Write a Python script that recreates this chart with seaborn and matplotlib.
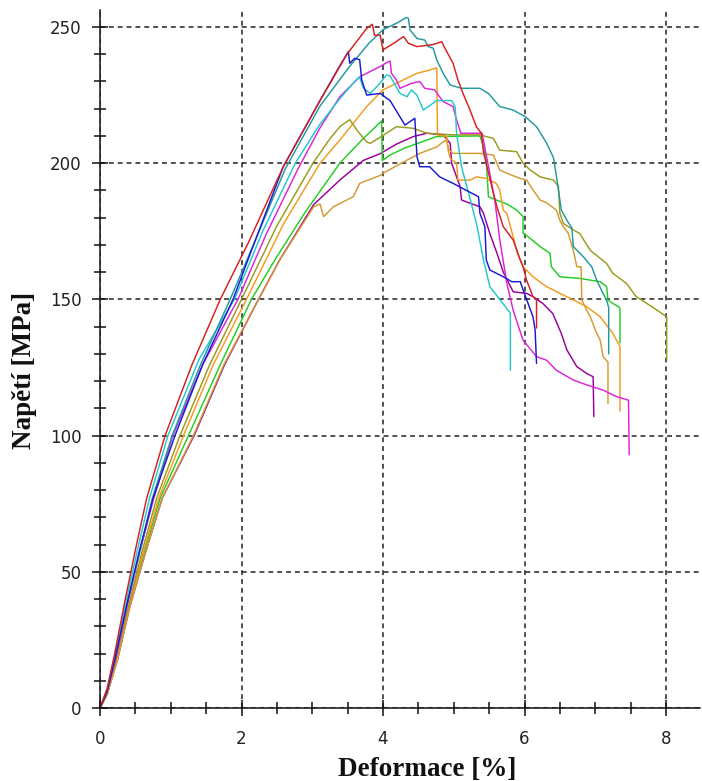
import matplotlib
matplotlib.use("Agg")
import matplotlib.pyplot as plt
from matplotlib.ticker import MultipleLocator
import numpy as np
import pandas as pd
import seaborn as sns

# ---------------- data (strain [%], stress [MPa]) ----------------
specimens = ["red", "blue", "teal", "cyan", "magenta", "olive", "orange", "ochre", "green", "purple"]
colors = ["#d81e1e", "#1a1ad0", "#22999c", "#22c8cc", "#dc22dc",
          "#9a9a1e", "#f39a1f", "#d39a33", "#22cc22", "#990099"]

strain_red = [0, 0.1, 0.2, 0.35, 0.5, 0.66, 0.92, 1.3, 1.7, 2.1, 2.59, 3.11, 3.49, 3.77, 3.85, 3.88, 3.96, 4.0,
              4.15, 4.29, 4.36, 4.48, 4.7, 4.83, 4.88, 4.99, 5.06, 5.13, 5.23, 5.32, 5.39, 5.42, 5.56, 5.61,
              5.7, 5.84, 5.94, 5.98, 6.03, 6.12, 6.17, 6.17]
stress_red = [0, 7, 19, 39, 58, 77, 100, 126, 150, 171, 198.7, 223, 240, 249.5, 251, 247, 247, 241.6,
              244, 246.5, 244, 242.8, 243.5, 244.6, 242, 236.7, 230.5, 225.7, 219.5, 213.4, 211, 204, 189, 184,
              176.7, 171.8, 164.5, 162, 157, 151, 150, 139.5]

strain_blue = [0, 0.1, 0.22, 0.38, 0.55, 0.75, 1.06, 1.45, 1.88, 2.2, 2.59, 3.11, 3.35, 3.51, 3.53, 3.6, 3.67,
               3.7, 3.77, 3.96, 4.1, 4.24, 4.31, 4.45, 4.48, 4.52, 4.66, 4.8, 4.99, 5.18, 5.35, 5.37, 5.44,
               5.46, 5.51, 5.7, 5.82, 5.94, 5.98, 6.03, 6.12, 6.15, 6.17]
stress_blue = [0, 6, 19, 38, 57, 77, 100, 126, 150, 172, 198.7, 223, 234, 241, 236.7, 238.5, 238,
               230.5, 225, 225.6, 223, 217, 214, 216.5, 202.4, 198.7, 198.7, 195, 192.6, 190, 187.7, 181.6, 176.7,
               164.5, 160.8, 158.3, 156.5, 156.5, 153.5, 150, 143.6, 138.8, 126.5]

strain_teal = [0, 0.1, 0.22, 0.38, 0.55, 0.74, 1.02, 1.42, 1.84, 2.2, 2.62, 3.11, 3.53, 3.8, 4.0, 4.2, 4.33,
               4.36, 4.38, 4.48, 4.59, 4.64, 4.71, 4.76, 4.85, 4.95, 5.11, 5.37, 5.49, 5.65, 5.84, 6.01, 6.17,
               6.31, 6.41, 6.45, 6.52, 6.6, 6.67, 6.69, 6.83, 6.95, 7.02, 7.11, 7.16, 7.19, 7.19]
stress_teal = [0, 6, 19, 38, 56, 77, 100, 126, 150, 172, 198, 221, 235.6, 244, 249, 251.5, 253.5,
               253.2, 249, 245.8, 245.2, 242.8, 242.2, 237.9, 233, 228.7, 227.5, 227.5, 225.6, 220.8, 219.5, 217.1, 213.4,
               207.5, 202, 195.5, 182.8, 179, 176.2, 169.4, 165.7, 162, 157.1, 152.2, 149.8, 147, 130]

strain_cyan = [0, 0.1, 0.2, 0.36, 0.52, 0.7, 0.96, 1.4, 1.9, 2.3, 2.76, 3.1, 3.4, 3.6, 3.67, 3.72, 3.82, 3.96,
               4.05, 4.1, 4.24, 4.34, 4.4, 4.48, 4.57, 4.76, 4.97, 5.02, 5.04, 5.11, 5.2, 5.32, 5.42, 5.51,
               5.65, 5.8, 5.8]
stress_cyan = [0, 7, 18, 38, 57, 77, 100, 128, 150, 175, 200, 214, 224, 230, 231.7, 227.6, 225.6, 229.4,
               232.4, 232, 225.6, 224.4, 226.9, 225, 219.5, 223, 223, 220.7, 211, 198.7, 190, 178, 164.5, 154.7,
               150, 145, 124]

strain_magenta = [0, 0.1, 0.22, 0.38, 0.56, 0.76, 1.03, 1.45, 1.95, 2.35, 2.8, 3.11, 3.39, 3.67, 3.96, 4.07,
                  4.1, 4.12, 4.19, 4.24, 4.4, 4.52, 4.59, 4.73, 4.85, 4.99, 5.04, 5.1, 5.4, 5.46, 5.58, 5.65,
                  5.75, 5.84, 5.98, 6.17, 6.31, 6.45, 6.69, 6.88, 7.11, 7.3, 7.47, 7.48]
stress_magenta = [0, 6, 18, 37, 57, 77, 100, 126, 150, 174, 198, 213, 224.4, 231.7, 235.5, 237.2,
                  237.5, 233, 230.5, 227.5, 229.3, 230, 227.5, 226.9, 222.6, 220.8, 215.9, 211, 211, 203, 186.5, 172,
                  156, 146, 135, 129, 127.7, 124, 120.4, 118.6, 116.7, 114.3, 113, 93]

strain_olive = [0, 0.1, 0.23, 0.4, 0.58, 0.8, 1.13, 1.55, 2.0, 2.5, 3.01, 3.25, 3.39, 3.53, 3.63, 3.7, 3.77,
                3.82, 3.96, 4.19, 4.43, 4.62, 4.99, 5.37, 5.56, 5.65, 5.89, 5.98, 6.08, 6.22, 6.41, 6.48, 6.5,
                6.55, 6.69, 6.78, 6.93, 7.16, 7.25, 7.44, 7.58, 7.73, 7.87, 8.01, 8.01]
stress_olive = [0, 6, 18, 37, 56, 77, 100, 126, 150, 177, 200, 209, 213.4, 216, 212.2, 210, 207.8,
                207.3, 209.5, 213.4, 212.8, 211, 210.4, 210.4, 209.1, 204.8, 204.2, 200, 197.5, 195, 193.8, 191.4, 181.6,
                177.9, 175.5, 174.2, 168, 163.2, 159.5, 155.9, 151, 148.5, 146.1, 143.6, 127.8]

strain_orange = [0, 0.1, 0.24, 0.41, 0.6, 0.83, 1.18, 1.6, 2.07, 2.6, 3.11, 3.39, 3.77, 4.0, 4.24, 4.48, 4.66,
                 4.76, 4.77, 4.9, 4.92, 4.95, 5.04, 5.06, 5.23, 5.32, 5.46, 5.6, 5.65, 5.7, 5.75, 5.84, 5.9,
                 5.98, 6.12, 6.31, 6.5, 6.69, 6.88, 7.07, 7.25, 7.35, 7.35]
stress_orange = [0, 5, 18, 37, 56, 77, 100, 126, 150, 178, 200, 208.5, 220.8, 226.9, 230, 233, 234.2,
                 235, 210.4, 209.8, 204.8, 201.7, 200, 193.8, 193.8, 195, 194.4, 192.6, 190.2, 182.8, 181.6, 173, 167,
                 162, 158.3, 154.7, 152.2, 149.8, 147.3, 143.6, 137.5, 132.7, 109]

strain_ochre = [0, 0.1, 0.25, 0.42, 0.63, 0.88, 1.32, 1.75, 2.24, 2.54, 3.02, 3.11, 3.16, 3.3, 3.58, 3.67,
                3.96, 4.0, 4.33, 4.52, 4.76, 4.85, 4.9, 4.93, 4.99, 5.37, 5.56, 5.61, 5.65, 5.75, 5.94, 6.03,
                6.12, 6.22, 6.31, 6.45, 6.5, 6.55, 6.62, 6.69, 6.74, 6.8, 6.81, 6.88, 6.93, 7.0, 7.07, 7.11,
                7.18, 7.18]
stress_ochre = [0, 5, 18, 37, 56, 77, 100, 126, 150, 164.5, 184, 185, 180.4, 184, 187.7, 192.6,
                195.5, 196.3, 201, 203.6, 206, 207.8, 208.5, 205, 203.6, 203.6, 203, 200, 197.5, 196.3, 194.4, 193.8,
                190.2, 186.5, 185.5, 182.8, 179, 176.7, 174.2, 168, 162, 162, 149.8, 146, 143.6, 138.8, 135, 129,
                127, 111.8]

strain_green = [0, 0.1, 0.24, 0.41, 0.61, 0.85, 1.25, 1.7, 2.14, 2.5, 2.9, 3.39, 3.7, 3.98, 3.99, 4.1, 4.3,
                4.62, 4.76, 5.37, 5.42, 5.46, 5.49, 5.6, 5.75, 5.89, 5.98, 5.98, 6.1, 6.22, 6.36, 6.38, 6.5,
                6.78, 7.07, 7.16, 7.18, 7.25, 7.33, 7.35, 7.35]
stress_green = [0, 5, 18, 37, 56, 77, 100, 126, 150, 165.7, 182, 200, 208.5, 215.5, 201, 203, 205.5,
                208.5, 209.8, 210, 206, 201, 187.7, 186.5, 185, 182.8, 180.4, 174.4, 172, 169.4, 166.9, 162, 158.3,
                157.7, 156.5, 154.7, 149.8, 148.5, 147.3, 146.5, 134]

strain_purple = [0, 0.1, 0.25, 0.42, 0.63, 0.88, 1.33, 1.76, 2.24, 2.54, 3.02, 3.39, 3.72, 3.96, 4.19, 4.43,
                 4.62, 4.85, 4.95, 4.97, 5.09, 5.11, 5.23, 5.37, 5.42, 5.51, 5.61, 5.7, 5.84, 6.03, 6.12, 6.26,
                 6.4, 6.52, 6.6, 6.74, 6.88, 6.97, 6.98]
stress_purple = [0, 5, 18, 37, 56, 77, 100, 126, 150, 164.5, 184.8, 193.8, 201, 203.5, 207, 209.8,
                 211, 210.4, 207.3, 200, 191.4, 186.5, 185.3, 184, 181.6, 174.2, 167, 160, 152.8, 152.2, 151, 148.5,
                 144.8, 137.5, 131.4, 125.3, 122.8, 121.6, 107]

x_ticks = [0, 2, 4, 6, 8]
y_ticks = [0, 50, 100, 150, 200, 250]
x_label = "Deformace [%]"
y_label = "Napětí [MPa]"

# ---------------- build long table ----------------
series = {
    "red": (strain_red, stress_red), "blue": (strain_blue, stress_blue),
    "teal": (strain_teal, stress_teal), "cyan": (strain_cyan, stress_cyan),
    "magenta": (strain_magenta, stress_magenta), "olive": (strain_olive, stress_olive),
    "orange": (strain_orange, stress_orange), "ochre": (strain_ochre, stress_ochre),
    "green": (strain_green, stress_green), "purple": (strain_purple, stress_purple),
}
rows = []
for name in specimens:
    xs, ys = series[name]
    for i, (a, b) in enumerate(zip(xs, ys)):
        rows.append({"specimen": name, "idx": i, "strain": a, "stress": b})
df = pd.DataFrame(rows)

# ---------------- plot ----------------
sns.set_style("white")
plt.rcParams["font.family"] = ["DejaVu Sans"]

W, H = 702, 781
fig = plt.figure(figsize=(W / 100, H / 100), dpi=100)
ax = fig.add_axes([100 / W, 1 - 708 / H, 600 / W, 698 / H])

# draw in reverse so red / teal end up on top like the reference
order = specimens[::-1]
sns.lineplot(data=df, x="strain", y="stress", hue="specimen", hue_order=order,
             palette=dict(zip(specimens, colors)), sort=False, estimator=None,
             linewidth=1.05, legend=False, ax=ax)

ax.set_xlim(0, 600 / 70.75)
ax.set_ylim(0, 698 / 2.724)

for s in ["top", "right"]:
    ax.spines[s].set_visible(False)
for s in ["left", "bottom"]:
    ax.spines[s].set_color("#111111")
    ax.spines[s].set_linewidth(1.1)

ax.set_xticks(x_ticks)
ax.set_yticks(y_ticks)
ax.xaxis.set_minor_locator(MultipleLocator(0.5))
ax.yaxis.set_minor_locator(MultipleLocator(10))
ax.tick_params(which="major", direction="inout", length=11, width=1.1, color="#111111",
               labelsize=12, labelcolor="#222222", bottom=True, left=True, top=False, right=False)
ax.tick_params(axis="x", which="major", pad=10)
ax.tick_params(axis="y", which="major", pad=8)
ax.tick_params(which="minor", direction="inout", length=9, width=1.1, color="#111111",
               bottom=True, left=True, top=False, right=False)

ax.grid(True, which="major", color="#222222", linestyle=(0, (3.2, 2.6)), linewidth=1.1)
ax.set_axisbelow(True)
ax.set_xlabel("")
ax.set_ylabel("")

fig.text(427 / W, 1 - 776 / H, x_label, ha="center", va="baseline",
         fontsize=19.5, fontweight="bold", family="Liberation Serif", color="#111111")
fig.text(25 / W, 1 - 370 / H, y_label, ha="center", va="center", rotation=90,
         fontsize=19.5, fontweight="bold", family="Liberation Serif", color="#111111")

fig.savefig("out.png", dpi=100)
